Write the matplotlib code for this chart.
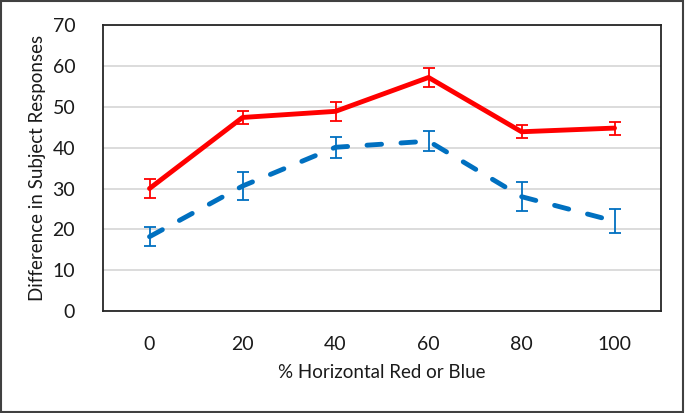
import numpy as np
import matplotlib.pyplot as plt
from matplotlib.patches import Rectangle

categories = ['0', '20', '40', '60', '80', '100']
red_vals = [30.0, 47.4, 48.9, 57.2, 43.9, 44.8]
red_err = [2.4, 1.7, 2.3, 2.4, 1.6, 1.6]
blue_vals = [18.2, 30.6, 40.1, 41.6, 28.0, 22.0]
blue_err = [2.3, 3.4, 2.6, 2.4, 3.6, 2.9]

plt.rcParams['font.family'] = ['Lato', 'DejaVu Sans']

fig = plt.figure(figsize=(6.85, 4.13), dpi=100)
ax = fig.add_axes([0.1504, 0.247, 0.8146, 0.692])

x = np.arange(len(categories))

ax.errorbar(x, red_vals, yerr=red_err, color='#ff0000', lw=3.5, ecolor='#ff0000',
            elinewidth=1.3, capsize=4, capthick=1.3, solid_capstyle='round', zorder=3)
line, = ax.plot(x, blue_vals, color='#0070c0', lw=3.5, dash_capstyle='round', zorder=3)
line.set_dashes((3, 4))
ax.errorbar(x, blue_vals, yerr=blue_err, fmt='none', ecolor='#0070c0',
            elinewidth=1.3, capsize=4, capthick=1.3, zorder=3)

ax.set_xlim(-0.5, len(categories) - 0.5)
ax.set_ylim(0, 70)
ax.set_yticks(range(0, 71, 10))
ax.set_xticks(x)
ax.set_xticklabels(categories)
ax.tick_params(length=0, labelsize=14, colors='#1a1a1a')
ax.tick_params(axis='x', pad=18)
ax.tick_params(axis='y', pad=20)
ax.yaxis.grid(True, color='#d9d9d9', lw=1.3)
ax.set_axisbelow(True)
for s in ax.spines.values():
    s.set_color('#262626')
    s.set_linewidth(1.3)

ax.set_xlabel('% Horizontal Red or Blue', fontsize=13.5, color='#1a1a1a', labelpad=8)
ax.set_ylabel('Difference in Subject Responses', fontsize=13.5, color='#1a1a1a', labelpad=5)

fig.patches.append(Rectangle((0.002, 0.003), 0.995, 0.994, transform=fig.transFigure,
                             fill=False, edgecolor='#404040', lw=1.5))

fig.savefig('out.png', dpi=100)
